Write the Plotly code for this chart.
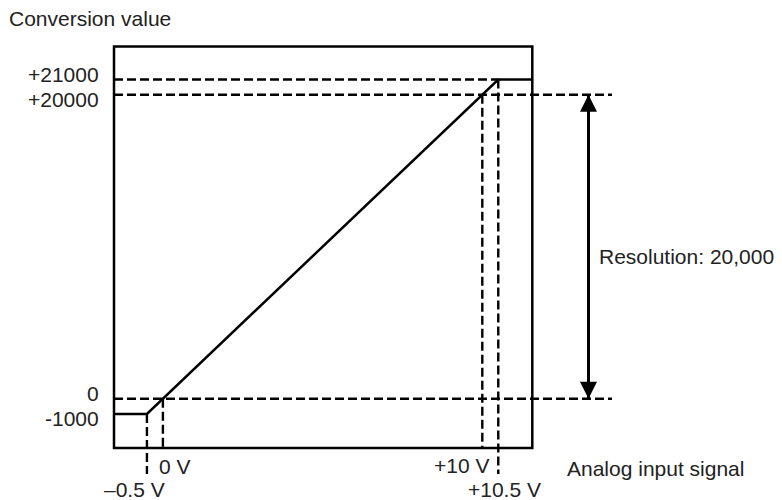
import plotly.graph_objects as go

# ---------------- data ----------------
input_signal_v = [-0.5, 0, 10, 10.5]            # analog input breakpoints (V)
conversion_value = [-1000, 0, 20000, 21000]     # conversion values at those inputs
x_tick_labels = ["\u20130.5 V", "0 V", "+10 V", "+10.5 V"]
y_tick_labels = ["-1000", "0", "+20000", "+21000"]
resolution = 20000
resolution_label = "Resolution: 20,000"
x_title = "Analog input signal"
y_title = "Conversion value"

# ---------------- layout constants (window pixels) ----------------
WIN_W, WIN_H = 782, 500
OFF = 8                                # default page body margin
FW, FH = WIN_W - OFF, WIN_H - OFF      # figure size
X_PX0, X_PX_PER_V = 162.9, 31.94       # window pixel of 0 V, pixels per volt
Y_PX0, Y_PX_PER_U = 398.7, 0.015199    # window pixel of value 0, pixels per unit
BOX_L, BOX_T, BOX_R, BOX_B = 114, 46.5, 532.3, 448
EXT_R = 612          # right end of extended dashed lines
BELOW = 474          # lower end of extended vertical dashes
ARROW_X = 588.5
FONT = dict(family="Liberation Sans, Arial, sans-serif", size=21, color="#222222")
DASH = "9px,4px"


def xv(px):
    return (px - X_PX0) / X_PX_PER_V


def yv(py):
    return (Y_PX0 - py) / Y_PX_PER_U


def xp(px):
    return (px - OFF) / FW


def yp(py):
    return 1 - (py - OFF) / FH


fig = go.Figure()

# dashed guide lines
line_style = dict(color="black", width=2.4, dash=DASH)
guides = [
    # horizontal
    ([xv(BOX_L), input_signal_v[3]], [conversion_value[3]] * 2),
    ([xv(BOX_L), xv(EXT_R)], [conversion_value[2]] * 2),
    ([xv(BOX_L), xv(EXT_R)], [conversion_value[1]] * 2),
    # vertical
    ([input_signal_v[0]] * 2, [conversion_value[0], yv(BELOW)]),
    ([input_signal_v[1]] * 2, [conversion_value[1], yv(BOX_B)]),
    ([input_signal_v[2]] * 2, [conversion_value[2], yv(BOX_B)]),
    ([input_signal_v[3]] * 2, [conversion_value[3], yv(BELOW)]),
]
for gx, gy in guides:
    fig.add_trace(go.Scatter(x=gx, y=gy, mode="lines", line=line_style,
                             hoverinfo="skip", showlegend=False))

# conversion characteristic (solid)
fig.add_trace(go.Scatter(
    x=[xv(BOX_L), input_signal_v[0], input_signal_v[3], xv(BOX_R)],
    y=[conversion_value[0], conversion_value[0], conversion_value[3], conversion_value[3]],
    mode="lines", line=dict(color="black", width=2.5),
    hoverinfo="skip", showlegend=False))

# resolution double arrow
fig.add_trace(go.Scatter(
    x=[xv(ARROW_X)] * 2, y=[0, resolution], mode="lines",
    line=dict(color="black", width=3), hoverinfo="skip", showlegend=False))
fig.add_trace(go.Scatter(
    x=[xv(ARROW_X)] * 2, y=[resolution, 0], mode="markers",
    marker=dict(symbol=["arrow-up", "arrow-down"], size=17, color="black",
                line=dict(width=0)),
    hoverinfo="skip", showlegend=False))

# frame
fig.add_shape(type="rect", xref="paper", yref="paper",
              x0=xp(BOX_L), x1=xp(BOX_R), y0=yp(BOX_B), y1=yp(BOX_T),
              line=dict(color="black", width=2.5), fillcolor="rgba(0,0,0,0)",
              layer="above")

annotations = []
# y labels (close pairs nudged apart so they stay readable)
y_label_nudge = [-5, 5, -5, 5]
for val, txt, dy in zip(conversion_value, y_tick_labels, y_label_nudge):
    annotations.append(dict(x=xp(101), xref="paper", y=val, yref="y",
                            yshift=dy, text=txt, xanchor="right",
                            yanchor="middle", showarrow=False, font=FONT))
# x labels (staggered)
x_label_place = [(-12, 489), (12, 466), (-21, 465), (6, 489)]
for val, txt, (dx, py) in zip(input_signal_v, x_tick_labels, x_label_place):
    annotations.append(dict(x=val, xref="x", y=yp(py), yref="paper",
                            xshift=dx, text=txt, xanchor="center",
                            yanchor="middle", showarrow=False, font=FONT))
annotations.append(dict(x=xp(565), xref="paper", y=yp(468), yref="paper",
                        text=x_title, xanchor="left", yanchor="middle",
                        showarrow=False, font=FONT))
annotations.append(dict(x=xp(7), xref="paper", y=yp(19), yref="paper",
                        text=y_title, xanchor="left", yanchor="middle",
                        showarrow=False, font=FONT))
annotations.append(dict(x=xp(597), xref="paper", y=resolution / 2, yref="y",
                        yshift=-10, text=resolution_label, xanchor="left",
                        yanchor="middle", showarrow=False, font=FONT))

fig.update_layout(
    width=FW, height=FH, autosize=False,
    margin=dict(l=0, r=0, t=0, b=0, pad=0),
    paper_bgcolor="white", plot_bgcolor="white",
    xaxis=dict(visible=False, range=[xv(OFF), xv(OFF + FW)], fixedrange=True),
    yaxis=dict(visible=False, range=[yv(OFF + FH), yv(OFF)], fixedrange=True),
    annotations=annotations,
    hovermode=False,
    showlegend=False,
)

fig.write_html("out.html", config={"displayModeBar": False})
